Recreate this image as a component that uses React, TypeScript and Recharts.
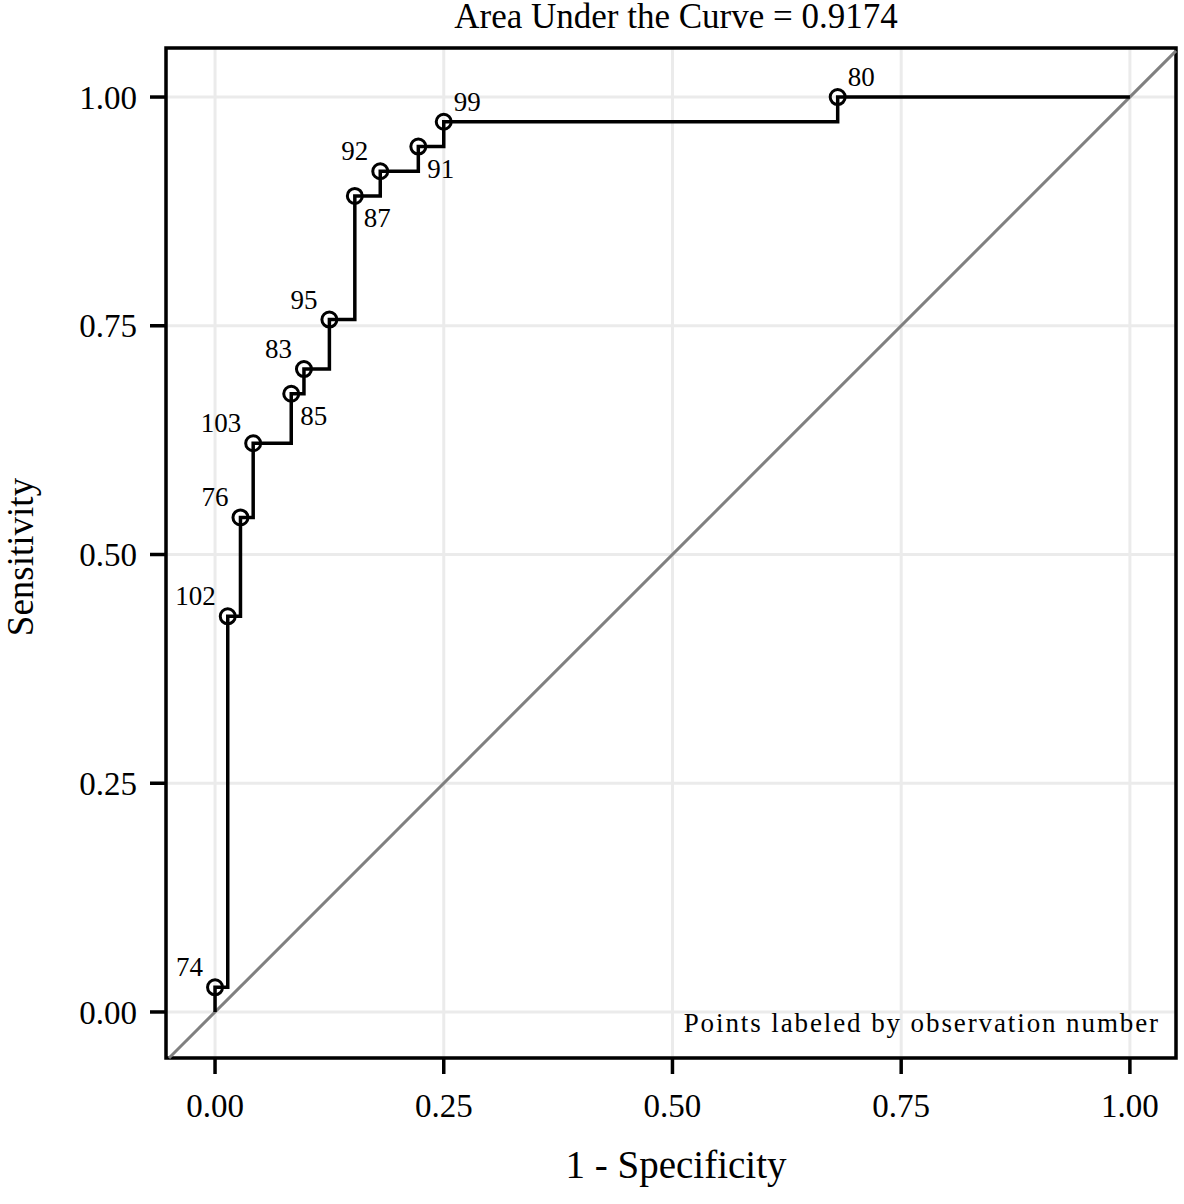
import React from 'react';
import {
  ComposedChart,
  Line,
  XAxis,
  YAxis,
  CartesianGrid,
  ReferenceArea,
  ReferenceLine,
} from 'recharts';

// ROC points (1 - specificity, sensitivity) and the observation that sets each cut
const falsePosRate = [0, 0, 0.0139, 0.0278, 0.0417, 0.0833, 0.0972, 0.125, 0.1528, 0.1806, 0.2222, 0.25, 0.6806, 1];
const sensitivity = [0, 0.027, 0.4324, 0.5405, 0.6216, 0.6757, 0.7027, 0.7568, 0.8919, 0.9189, 0.9459, 0.973, 1, 1];
const obsLabels = ['', '74', '102', '76', '103', '85', '83', '95', '87', '92', '91', '99', '80', ''];
const axisTicks = [0, 0.25, 0.5, 0.75, 1];
const tickLabels = ['0.00', '0.25', '0.50', '0.75', '1.00'];

const title = 'Area Under the Curve = 0.9174';
const xTitle = '1 - Specificity';
const yTitle = 'Sensitivity';
const note = 'Points labeled by observation number';

// where each marker label sits (clock position, like Stata's mlabvposition)
const labelClock: Record<string, number> = {
  '74': 10, '102': 10, '76': 10, '103': 10, '85': 4, '83': 10,
  '95': 10, '87': 4, '92': 10, '91': 4, '99': 2, '80': 2,
};

const X_DOMAIN: [number, number] = [-0.0536, 1.0504];
const Y_DOMAIN: [number, number] = [-0.0503, 1.0536];
const FONT = '"Liberation Serif", "Times New Roman", serif';

const rocData = falsePosRate.map((x, i) => ({ x, y: sensitivity[i], obs: obsLabels[i] }));

const RocDot = (props: any) => {
  const { cx, cy, payload, index } = props;
  if (!payload.obs) return <g key={`d${index}`} />;
  const pos = labelClock[payload.obs];
  let dx = -12, dy = -11, anchor = 'end';
  if (pos === 4) { dx = 9; dy = 31; anchor = 'start'; }
  if (pos === 2) { dx = 10; dy = -11; anchor = 'start'; }
  return (
    <g key={`d${index}`}>
      <circle cx={cx} cy={cy} r={7.5} fill="none" stroke="#000" strokeWidth={3} />
      <text x={cx + dx} y={cy + dy} textAnchor={anchor} fontSize={27} fontFamily={FONT} fill="#000">
        {payload.obs}
      </text>
    </g>
  );
};

export default function App() {
  const diagLo = Math.max(X_DOMAIN[0], Y_DOMAIN[0]);
  const diagHi = Math.min(X_DOMAIN[1], Y_DOMAIN[1]);

  return (
    <div style={{ position: 'absolute', left: 0, top: 0, width: 1184, height: 1204, background: '#fff' }}>
      <ComposedChart
        width={1184}
        height={1204}
        data={rocData}
        margin={{ top: 48, right: 8, bottom: 46, left: 0 }}
      >
        <CartesianGrid stroke="#ebebeb" strokeWidth={3} />
        <XAxis
          type="number"
          dataKey="x"
          domain={X_DOMAIN}
          ticks={axisTicks}
          tickFormatter={(v: number) => tickLabels[axisTicks.indexOf(v)]}
          height={100}
          axisLine={false}
          tickSize={16}
          tickMargin={20}
          tickLine={{ stroke: '#000', strokeWidth: 3.5 }}
          tick={{ fontSize: 33, fill: '#000', fontFamily: FONT }}
          allowDataOverflow
        />
        <YAxis
          type="number"
          dataKey="y"
          domain={Y_DOMAIN}
          ticks={axisTicks}
          tickFormatter={(v: number) => tickLabels[axisTicks.indexOf(v)]}
          width={166}
          axisLine={false}
          tickSize={16}
          tickMargin={13}
          tickLine={{ stroke: '#000', strokeWidth: 3.5 }}
          tick={{ fontSize: 33, fill: '#000', fontFamily: FONT }}
          allowDataOverflow
        />
        <ReferenceLine
          segment={[{ x: diagLo, y: diagLo }, { x: diagHi, y: diagHi }]}
          stroke="#808080"
          strokeWidth={3}
        />
        <Line
          type="stepAfter"
          dataKey="y"
          stroke="#000"
          strokeWidth={3.5}
          dot={RocDot}
          activeDot={false}
          isAnimationActive={false}
        />
        <ReferenceArea
          x1={X_DOMAIN[0]}
          x2={X_DOMAIN[1]}
          y1={Y_DOMAIN[0]}
          y2={Y_DOMAIN[1]}
          fill="none"
          fillOpacity={0}
          stroke="#000"
          strokeWidth={3.5}
        />
      </ComposedChart>
      <svg
        width={1184}
        height={1204}
        style={{ position: 'absolute', left: 0, top: 0, pointerEvents: 'none' }}
      >
        <text x={676} y={28} textAnchor="middle" fontSize={35} fontFamily={FONT} fill="#000">{title}</text>
        <text x={676} y={1178} textAnchor="middle" fontSize={39} fontFamily={FONT} fill="#000">{xTitle}</text>
        <text
          x={33}
          y={557}
          textAnchor="middle"
          fontSize={37}
          fontFamily={FONT}
          fill="#000"
          transform="rotate(-90 33 557)"
        >
          {yTitle}
        </text>
        <text x={1160} y={1032} textAnchor="end" fontSize={27} letterSpacing={1.9} fontFamily={FONT} fill="#000">{note}</text>
      </svg>
    </div>
  );
}
